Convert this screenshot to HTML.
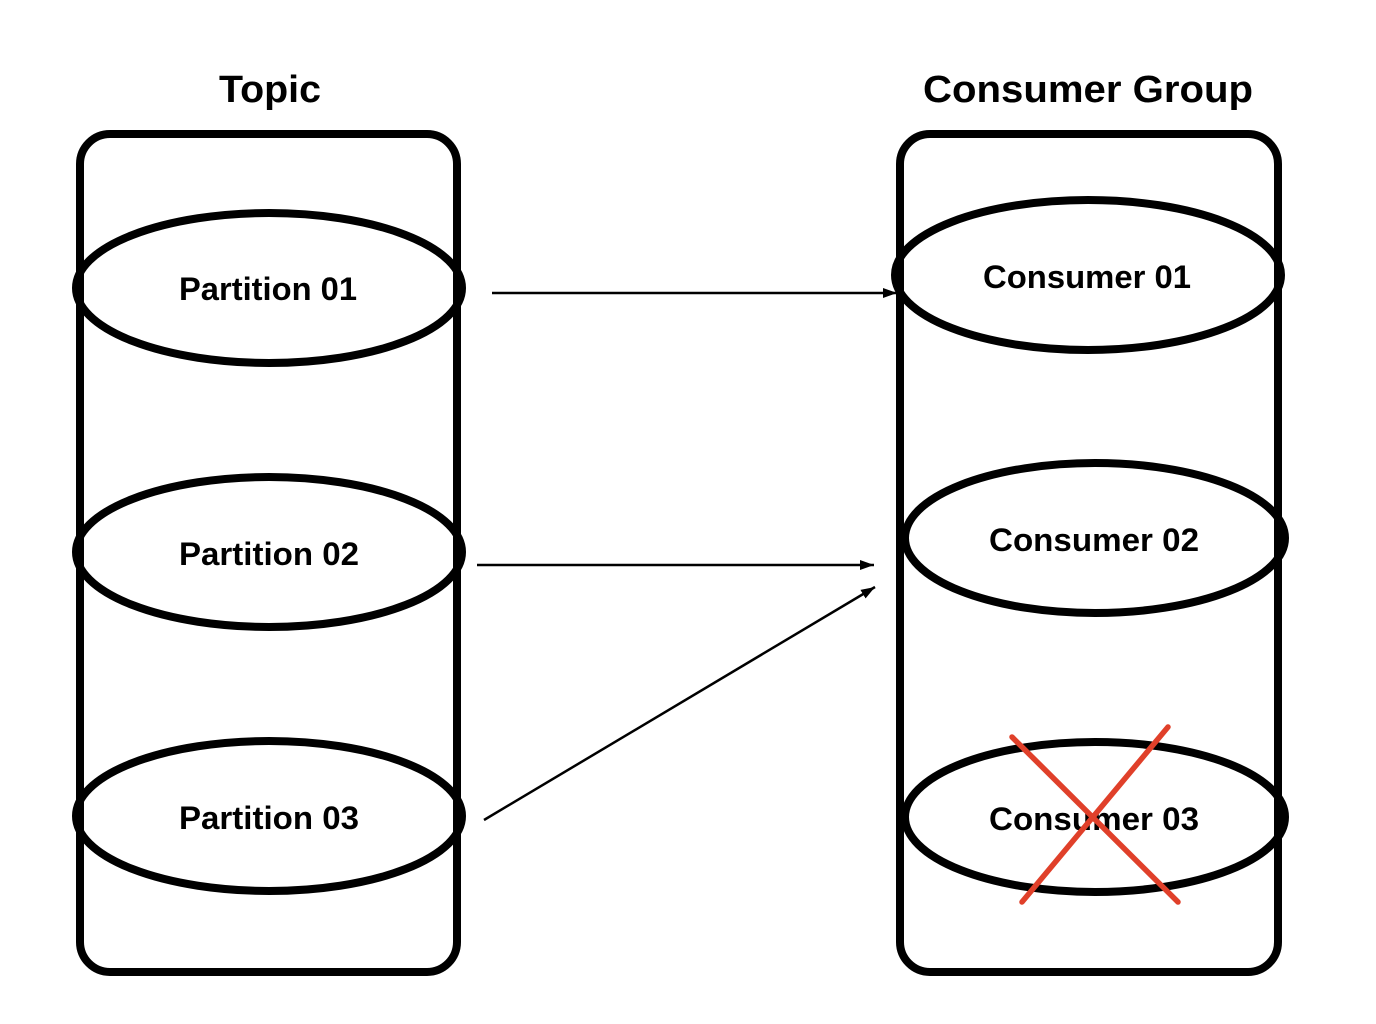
<!DOCTYPE html>
<html><head><style>html,body{margin:0;padding:0;background:#fff;}svg{display:block}</style></head>
<body>
<svg width="1376" height="1024" viewBox="0 0 1376 1024" xmlns="http://www.w3.org/2000/svg">
<defs><marker id="a" markerWidth="14" markerHeight="10" refX="14" refY="5" orient="auto" markerUnits="userSpaceOnUse"><path d="M0,0 L14,5 L0,10 z" fill="#000"/></marker></defs>
<g font-family="Liberation Sans, sans-serif" font-weight="bold" text-anchor="middle">
<text x="270" y="102" font-size="38" textLength="102" lengthAdjust="spacingAndGlyphs">Topic</text>
<text x="1088" y="102" font-size="38" textLength="330" lengthAdjust="spacingAndGlyphs">Consumer Group</text>
</g>
<g fill="none" stroke="#000" stroke-width="8">
<rect x="80" y="134" width="377" height="838" rx="30"/>
<rect x="900" y="134" width="378" height="838" rx="30"/>
<ellipse cx="269" cy="288" rx="193" ry="75"/>
<ellipse cx="269" cy="552" rx="193" ry="75"/>
<ellipse cx="269" cy="816" rx="193" ry="75"/>
<ellipse cx="1088" cy="275" rx="193" ry="75"/>
<ellipse cx="1095" cy="538" rx="190" ry="75"/>
<ellipse cx="1095" cy="817" rx="190" ry="75"/>
</g>
<g font-family="Liberation Sans, sans-serif" font-size="32" text-anchor="middle" fill="#000" font-weight="bold">
<text x="268" y="300" textLength="178" lengthAdjust="spacingAndGlyphs">Partition 01</text>
<text x="269" y="565" textLength="180" lengthAdjust="spacingAndGlyphs">Partition 02</text>
<text x="269" y="829" textLength="180" lengthAdjust="spacingAndGlyphs">Partition 03</text>
<text x="1087" y="288" textLength="208" lengthAdjust="spacingAndGlyphs">Consumer 01</text>
<text x="1094" y="551" textLength="210" lengthAdjust="spacingAndGlyphs">Consumer 02</text>
<text x="1094" y="830" textLength="210" lengthAdjust="spacingAndGlyphs">Consumer 03</text>
</g>
<g stroke="#000" stroke-width="2.5" marker-end="url(#a)">
<line x1="492" y1="293" x2="897" y2="293"/>
<line x1="477" y1="565" x2="874" y2="565"/>
<line x1="484" y1="820" x2="875" y2="587"/>
</g>
<g stroke="#e0402a" stroke-width="5.5" stroke-linecap="round">
<line x1="1012" y1="737" x2="1178" y2="902"/>
<line x1="1168" y1="727" x2="1022" y2="902"/>
</g>
</svg>
</body></html>
